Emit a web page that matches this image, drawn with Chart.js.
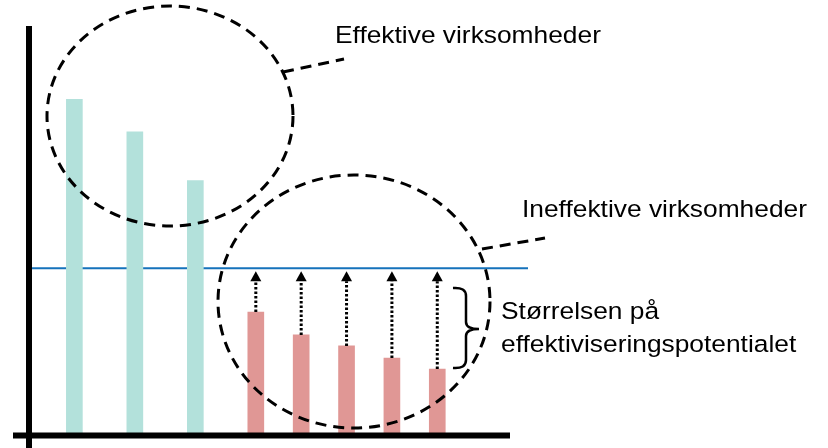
<!DOCTYPE html>
<html>
<head>
<meta charset="utf-8">
<script src="https://cdn.jsdelivr.net/npm/chart.js@4.4.1/dist/chart.umd.min.js"></script>
<style>
  html, body { margin: 0; padding: 0; background: #fff; }
  #wrap { width: 828px; height: 448px; }
</style>
</head>
<body>
<div id="wrap"><canvas id="effChart" width="828" height="448"></canvas></div>
<script>
// bar positions along the x axis and their heights
var effectivePos = [0, 4, 8];
var effectiveVals = [82, 74, 62];
var ineffectivePos = [12, 15, 18, 21, 24];
var ineffectiveVals = [29.7, 24.1, 21.4, 18.4, 15.7];
var frontier = 40.5; // level of the effective firms (blue line)
var frontierRange = [-3, 30];

var labelTop = 'Effektive virksomheder';
var labelMid = 'Ineffektive virksomheder';
var labelGap = ['Størrelsen på', 'effektiviseringspotentialet'];

function toPoints(xs, ys) {
    return xs.map(function(x, i) { return { x: x, y: ys[i] }; });
}

function drawText(ctx, txt, x, y) {
    ctx.save();
    ctx.translate(x, y);
    ctx.scale(1.075, 1);
    ctx.fillText(txt, 0, 0);
    ctx.restore();
}

var overlay = {
    id: 'overlay',
    afterDatasetsDraw: function(chart) {
        var ctx = chart.ctx;
        var xs = chart.scales.x, ys = chart.scales.y;
        var lineY = ys.getPixelForValue(frontier);

        // dotted arrows from each ineffective bar up to the frontier
        ctx.save();
        ctx.strokeStyle = '#000';
        ctx.fillStyle = '#000';
        ineffectivePos.forEach(function(p, i) {
            var px = xs.getPixelForValue(p);
            var top = ys.getPixelForValue(ineffectiveVals[i]);
            var tip = lineY + 3;
            ctx.lineWidth = 3;
            ctx.setLineDash([2.5, 2]);
            ctx.beginPath();
            ctx.moveTo(px, top);
            ctx.lineTo(px, tip + 10);
            ctx.stroke();
            ctx.setLineDash([]);
            ctx.beginPath();
            ctx.moveTo(px, tip);
            ctx.lineTo(px - 5.5, tip + 10);
            ctx.lineTo(px + 5.5, tip + 10);
            ctx.closePath();
            ctx.fill();
        });
        ctx.restore();

        // axes
        ctx.save();
        ctx.strokeStyle = '#000';
        ctx.lineWidth = 6;
        ctx.beginPath();
        ctx.moveTo(29, 26);
        ctx.lineTo(29, 448);
        ctx.moveTo(13, 435.5);
        ctx.lineTo(510, 435.5);
        ctx.stroke();
        ctx.restore();

        // dashed ellipses + leaders
        ctx.save();
        ctx.strokeStyle = '#000';
        ctx.lineWidth = 3;
        ctx.setLineDash([11, 7]);
        ctx.beginPath();
        ctx.ellipse(170, 116, 123, 110, 0, 0, Math.PI * 2);
        ctx.stroke();
        ctx.beginPath();
        ctx.ellipse(354, 301.5, 136, 126.5, 0, 0, Math.PI * 2);
        ctx.stroke();
        ctx.beginPath();
        ctx.moveTo(283, 72);
        ctx.lineTo(344, 59);
        ctx.moveTo(482, 249);
        ctx.lineTo(545, 238);
        ctx.stroke();
        ctx.restore();

        // brace
        ctx.save();
        ctx.strokeStyle = '#000';
        ctx.lineWidth = 2.5;
        ctx.beginPath();
        ctx.moveTo(453, 288);
        ctx.quadraticCurveTo(466, 287, 466, 296);
        ctx.lineTo(466, 322);
        ctx.quadraticCurveTo(466, 329, 479, 329);
        ctx.quadraticCurveTo(466, 329, 466, 336);
        ctx.lineTo(466, 360);
        ctx.quadraticCurveTo(466, 369, 453, 368);
        ctx.stroke();
        ctx.restore();

        // labels
        ctx.save();
        ctx.fillStyle = '#000';
        ctx.font = '24.5px "Liberation Sans", Arial, sans-serif';
        ctx.textBaseline = 'alphabetic';
        drawText(ctx, labelTop, 335, 43);
        drawText(ctx, labelMid, 522, 217);
        drawText(ctx, labelGap[0], 501, 319);
        drawText(ctx, labelGap[1], 501, 352);
        ctx.restore();
    }
};

var ctx = document.getElementById('effChart').getContext('2d');
var effChart = new Chart(ctx, {
    type: 'bar',
    data: {
        datasets: [{
            label: 'Effektive',
            data: toPoints(effectivePos, effectiveVals),
            backgroundColor: '#b3e1db',
            barThickness: 16,
            grouped: false
        }, {
            label: 'Ineffektive',
            data: toPoints(ineffectivePos, ineffectiveVals),
            backgroundColor: '#e09795',
            barThickness: 16,
            grouped: false
        }, {
            type: 'line',
            label: 'Front',
            data: toPoints(frontierRange, [frontier, frontier]),
            borderColor: '#1572bb',
            borderWidth: 2,
            pointRadius: 0,
            fill: false
        }]
    },
    options: {
        responsive: false,
        animation: false,
        layout: { padding: { left: 29, top: 26, right: 300, bottom: 15 } },
        plugins: { legend: { display: false }, tooltip: { enabled: false } },
        scales: {
            x: { type: 'linear', min: -3, max: 30, offset: false, display: false },
            y: { min: 0, max: 100, display: false }
        }
    },
    plugins: [overlay]
});
</script>
</body>
</html>
